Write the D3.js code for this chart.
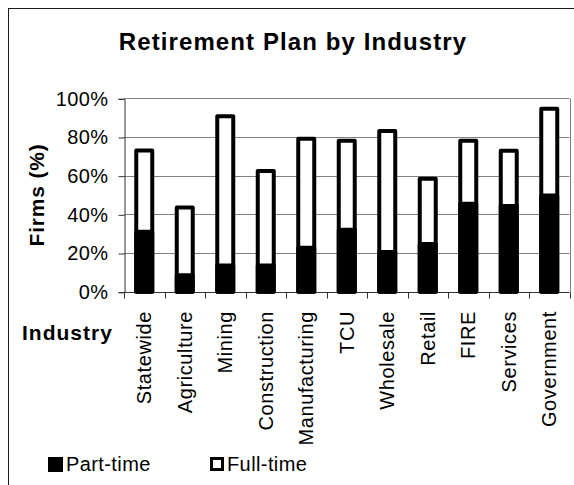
<!DOCTYPE html>
<html>
<head>
<meta charset="utf-8">
<script src="https://cdn.jsdelivr.net/npm/d3@7/dist/d3.min.js"></script>
<style>
  html, body { margin: 0; padding: 0; background: #fff; }
  svg { display: block; }
  text { font-family: "Liberation Sans", Arial, sans-serif; fill: #000; }
</style>
</head>
<body>
<svg id="chart" width="574" height="485"></svg>
<script>
const categories = ["Statewide", "Agriculture", "Mining", "Construction", "Manufacturing", "TCU", "Wholesale", "Retail", "FIRE", "Services", "Government"];
const partTime = [31, 8.5, 13.6, 13.6, 22.7, 32, 20.5, 24.7, 45.5, 44.3, 49.8];
const fullTime = [73, 43.6, 90.7, 62.4, 79.1, 78.1, 83.1, 58.4, 78.1, 72.9, 94.6];
const yTicks = [0, 20, 40, 60, 80, 100];
const seriesNames = ["Part-time", "Full-time"];

(function () {
const svg = d3.select("#chart");

// outer frame
svg.append("rect").attr("x", 8.5).attr("y", 8.5).attr("width", 700).attr("height", 700)
  .attr("fill", "none").attr("stroke", "#1a1a1a").attr("stroke-width", 1);

const pLeft = 124, pRight = 569.5, pTop = 98.3, pBottom = 291.7;
const x = d3.scaleBand().domain(categories).range([pLeft, pRight]).paddingInner(0).paddingOuter(0);
const y = d3.scaleLinear().domain([0, 100]).range([pBottom, pTop]);

// title
svg.append("text").attr("x", 293).attr("y", 50).attr("text-anchor", "middle")
  .style("font-size", "24px").style("font-weight", "bold").style("letter-spacing", "1.1px")
  .text("Retirement Plan by Industry");

// gridlines
svg.append("g").selectAll("line").data(yTicks.filter(d => d > 0)).join("line")
  .attr("x1", pLeft).attr("x2", pRight)
  .attr("y1", d => Math.round(y(d)) + 0.5).attr("y2", d => Math.round(y(d)) + 0.5)
  .attr("stroke", "#808080").attr("stroke-width", 1);
// right border
svg.append("line").attr("x1", Math.round(pRight) + 0.5).attr("x2", Math.round(pRight) + 0.5)
  .attr("y1", Math.round(pTop) + 0.5).attr("y2", Math.round(pBottom) + 0.5)
  .attr("stroke", "#808080");

// y axis
const yAxis = d3.axisLeft(y).tickValues(yTicks).tickFormat(d => d + "%").tickSize(6).tickPadding(10);
const gy = svg.append("g").attr("transform", `translate(${pLeft + 0.5},0.5)`).call(yAxis);
gy.select(".domain").attr("stroke", "#333");
gy.selectAll(".tick line").attr("stroke", "#333");
gy.selectAll(".tick text").style("font-size", "20px").style("letter-spacing", "0.4px")
  .style("font-family", "'Liberation Sans', Arial, sans-serif").attr("fill", "#000");

// x axis (ticks at band boundaries)
const gx = svg.append("g").attr("transform", `translate(0,${Math.round(pBottom) + 0.5})`);
gx.append("line").attr("x1", pLeft).attr("x2", pRight).attr("stroke", "#333");
const bounds = categories.map(c => x(c)).concat([x(categories[categories.length - 1]) + x.bandwidth()]);
gx.selectAll("line.tk").data(bounds).join("line").attr("class", "tk")
  .attr("x1", d => Math.round(d) + 0.5).attr("x2", d => Math.round(d) + 0.5)
  .attr("y1", 0).attr("y2", 6).attr("stroke", "#333");

// category labels
svg.append("g").selectAll("text").data(categories).join("text")
  .attr("transform", d => `translate(${x(d) + x.bandwidth() / 2 + 7},311) rotate(-90)`)
  .attr("text-anchor", "end")
  .style("font-size", "20px").style("letter-spacing", "0.6px")
  .text(d => d);

// axis titles
svg.append("text").attr("transform", `translate(44,${(pTop + pBottom) / 2}) rotate(-90)`)
  .attr("text-anchor", "middle").style("font-size", "21px").style("font-weight", "bold")
  .style("letter-spacing", "0.8px").text("Firms (%)");
svg.append("text").attr("x", 22).attr("y", 340)
  .style("font-size", "21px").style("font-weight", "bold").style("letter-spacing", "1px")
  .text("Industry");

// bars
const bw = x.bandwidth() * 0.395;
const bars = svg.append("g");
bars.selectAll("rect.full").data(categories).join("rect").attr("class", "full")
  .attr("x", d => x(d) + (x.bandwidth() - bw) / 2)
  .attr("width", bw)
  .attr("y", (d, i) => y(fullTime[i]))
  .attr("height", (d, i) => y(0) - y(fullTime[i]))
  .attr("fill", "#fff").attr("stroke", "#000").attr("stroke-width", 4).attr("stroke-linejoin", "round");
bars.selectAll("rect.part").data(categories).join("rect").attr("class", "part")
  .attr("x", d => x(d) + (x.bandwidth() - bw) / 2)
  .attr("width", bw)
  .attr("y", (d, i) => y(partTime[i]))
  .attr("height", (d, i) => y(0) - y(partTime[i]))
  .attr("fill", "#000").attr("stroke", "#000").attr("stroke-width", 4).attr("stroke-linejoin", "round");

// legend
const legend = svg.append("g");
const lx = [48, 210];
seriesNames.forEach((name, i) => {
  const g = legend.append("g").attr("transform", `translate(${lx[i]},457)`);
  if (i === 0) {
    g.append("rect").attr("x", 0).attr("y", 0).attr("width", 15).attr("height", 15).attr("fill", "#000");
  } else {
    g.append("rect").attr("x", 1.5).attr("y", 1.5).attr("width", 11).attr("height", 11)
      .attr("fill", "#fff").attr("stroke", "#000").attr("stroke-width", 3);
  }
  g.append("text").attr("x", i === 0 ? 18 : 17).attr("y", 14)
    .style("font-size", "20px").style("letter-spacing", "0.4px").text(name);
});
})();
</script>
</body>
</html>
